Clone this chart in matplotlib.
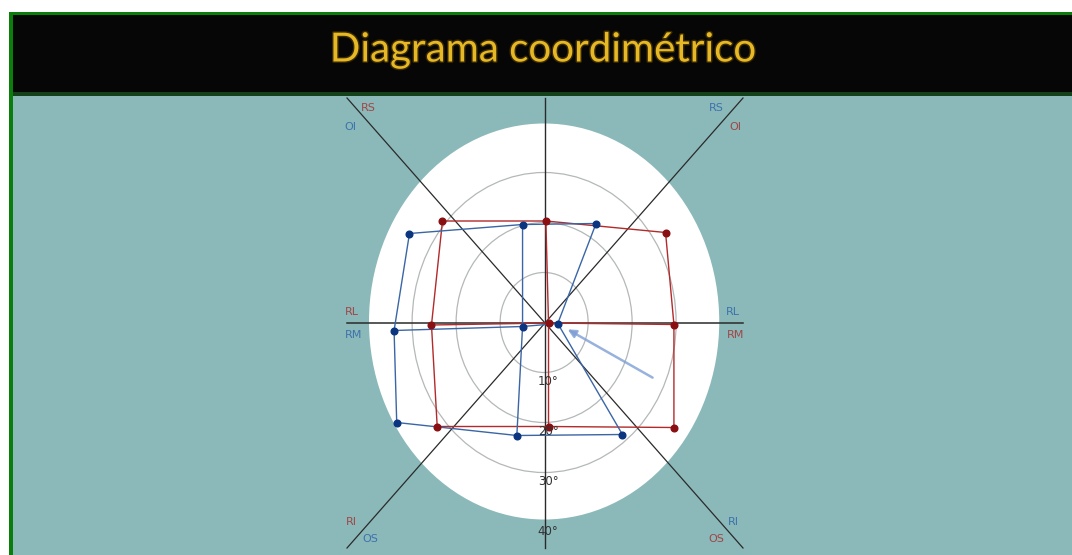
import numpy as np
import matplotlib
matplotlib.use("Agg")
import matplotlib.pyplot as plt
import matplotlib.patheffects as pe
from matplotlib.patches import Rectangle, Ellipse

# coordimetric grid points (degrees), rows top / middle / bottom, cols left / mid / right
red_x = [[-23.3, 0.2, 27.4], [-25.8, 0.8, 29.3], [-24.5, 0.8, 29.3]]
red_y = [[20.4, 20.4, 18.1], [-0.4, 0.0, -0.3], [-20.7, -20.7, -20.9]]
blue_x = [[-30.8, -5.1, 11.6], [-34.3, -5.1, 2.9], [-33.7, -6.4, 17.6]]
blue_y = [[17.9, 19.7, 19.9], [-1.5, -0.7, -0.1], [-19.9, -22.5, -22.3]]

rings = [10, 20, 30]
outer_ring = 40
ring_labels = ["10°", "20°", "30°", "40°"]

# corner labels: (text, x, y, colour key)
corner_labels = [
    ("RS", -40.2, 43.0, "r"), ("OI", -44.3, 39.2, "b"),
    ("RS", 38.9, 43.0, "b"), ("OI", 43.2, 39.2, "r"),
    ("RL", -43.9, 2.2, "r"), ("RM", -43.4, -2.4, "b"),
    ("RL", 42.7, 2.2, "b"), ("RM", 43.2, -2.4, "r"),
    ("RI", -43.9, -39.8, "r"), ("OS", -39.8, -43.2, "b"),
    ("RI", 42.7, -39.8, "b"), ("OS", 38.9, -43.2, "r"),
]
arrow_tail = (25.0, -11.2)
arrow_head = (4.6, -1.0)

RED_LINE, RED_DOT = "#b22a2a", "#8a0f12"
BLUE_LINE, BLUE_DOT = "#3a66a6", "#0c3580"
LBL_RED, LBL_BLUE = "#a04646", "#3d72ad"
TEAL = "#8bb9b9"

W, H = 1072, 555
fig = plt.figure(figsize=(W / 100, H / 100), dpi=100)
fig.patch.set_facecolor("white")

# frame, title bar and background in pixel units
bg = fig.add_axes([0, 0, 1, 1])
bg.set_xlim(0, W)
bg.set_ylim(H, 0)
bg.axis("off")
bg.add_patch(Rectangle((9, 12), W, H, color="#0b7d0b", lw=0))
bg.add_patch(Rectangle((13, 15), W, 80, color="#060606", lw=0))
bg.add_patch(Rectangle((13, 92), W, 4, color="#14401a", lw=0))
bg.add_patch(Rectangle((13, 96), W, H, color=TEAL, lw=0))
bg.text(543, 50, "Diagrama coordimétrico", ha="center", va="center",
        fontsize=29, family="Lato", color="#e6b826",
        path_effects=[pe.withStroke(linewidth=2, foreground="#3a2a00")])

# diagram axes: centre at pixel (545, 323), 4.4 px/deg across, 5 px/deg down
cx, cy, sx, sy = 545, 323, 4.4, 5.0
l, r, t, b = 13, W, 96, H
ax = fig.add_axes([l / W, 1 - b / H, (r - l) / W, (b - t) / H])
ax.set_xlim((l - cx) / sx, (r - cx) / sx)
ax.set_ylim((cy - b) / sy, (cy - t) / sy)
ax.axis("off")

ax.add_patch(Ellipse((-0.2, 0.3), 2 * outer_ring * 0.995, 2 * outer_ring * 0.99,
                     color="white", lw=0, zorder=1))
for rr in rings:
    ax.add_patch(Ellipse((-0.2, 0.1), 2 * rr, 2 * rr, fill=False,
                         ec="#b4b8b8", lw=0.9, zorder=2))

for i, lab in enumerate(ring_labels):
    ax.text(0.7, -(rings + [outer_ring])[i] - 1.7, lab, ha="center", va="center",
            fontsize=8.5, color="#333333", zorder=6)

# reference axes
L = 45
ax.plot([-L, L], [0, 0], color="#2a2a2a", lw=1.1, zorder=3)
ax.plot([0, 0], [-L, L], color="#2a2a2a", lw=1.0, zorder=3)
ax.plot([-L, L], [L, -L], color="#2a2a2a", lw=0.9, zorder=3)
ax.plot([-L, L], [-L, L], color="#2a2a2a", lw=0.9, zorder=3)


def draw_grid(xs, ys, lc, dc):
    xs, ys = np.array(xs), np.array(ys)
    ring = [(0, 0), (0, 1), (0, 2), (1, 2), (2, 2), (2, 1), (2, 0), (1, 0), (0, 0)]
    ax.plot([xs[p] for p in ring], [ys[p] for p in ring], color=lc, lw=1.0, zorder=4)
    ax.plot(xs[:, 1], ys[:, 1], color=lc, lw=1.0, zorder=4)
    ax.plot(xs[1, :], ys[1, :], color=lc, lw=1.0, zorder=4)
    ax.plot(xs.ravel(), ys.ravel(), "o", color=dc, ms=4.8, zorder=5)


draw_grid(red_x, red_y, RED_LINE, RED_DOT)
draw_grid(blue_x, blue_y, BLUE_LINE, BLUE_DOT)

ax.annotate("", xy=arrow_head, xytext=arrow_tail, zorder=6,
            arrowprops=dict(arrowstyle="-|>", color="#7f9fd6", alpha=0.8,
                            lw=1.8, mutation_scale=12))

for txt, x, y, c in corner_labels:
    ax.text(x, y, txt, ha="center", va="center", fontsize=8,
            color=LBL_RED if c == "r" else LBL_BLUE, zorder=6)

fig.savefig("out.png", dpi=100)
